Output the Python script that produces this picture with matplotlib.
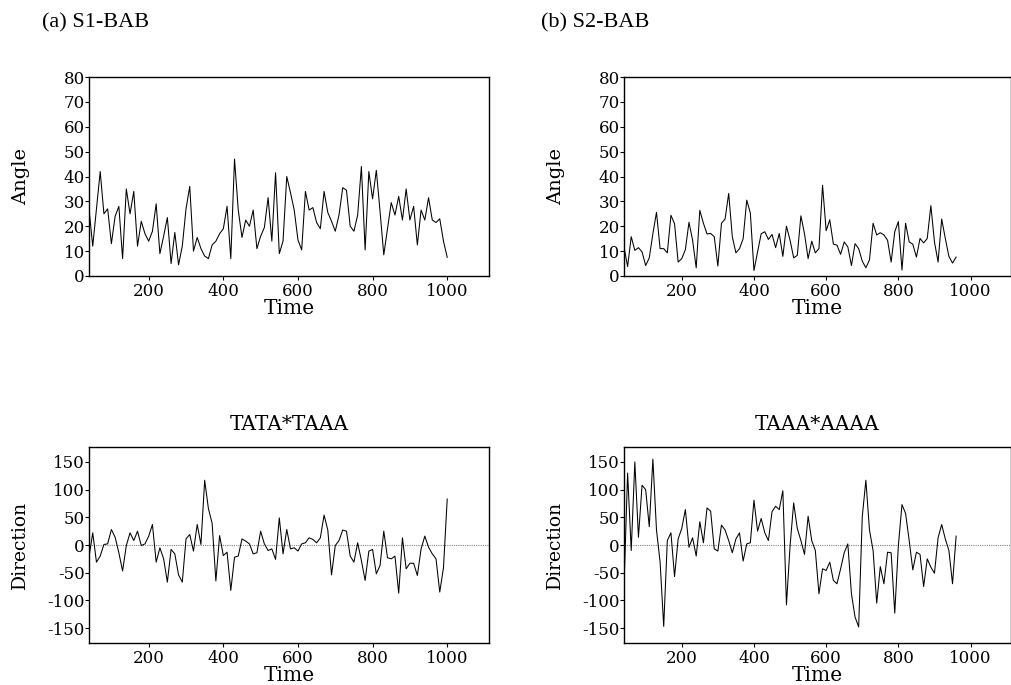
import matplotlib
matplotlib.use("Agg")
import matplotlib.pyplot as plt
import numpy as np

# angle series (a) S1-BAB, sampled every 10 time units from 40 to 1000
angle_s1 = [27, 12, 27, 42, 25, 27, 13, 24, 28, 7,
            35, 25, 34, 12, 22, 17, 14, 18, 29, 9,
            16, 23.5, 5, 17.5, 4.5, 12, 27, 36, 10, 15.5,
            11, 8, 7, 12.5, 14, 17, 19, 28, 7, 47,
            26.5, 15.5, 22.5, 20, 26.5, 11, 16, 19.5, 31.5, 14,
            41.5, 9, 14, 40, 33.5, 26.5, 14.5, 10.5, 34, 26.5,
            27.5, 21.5, 19, 34, 25.5, 22, 18, 24.5, 35.5, 34.5,
            20, 18, 24.5, 44, 10.5, 42, 31, 42.5, 26, 8.5,
            19, 29.5, 24.5, 32, 22.5, 35, 22.5, 28, 12.5, 26.5,
            22.5, 31.5, 22.5, 21.5, 23, 14, 7.5]

# angle series (b) S2-BAB, every 10 time units from 40 to 960
angle_s2 = [11.7, 3.8, 15.8, 10.3, 11.4, 9.7, 4.2, 7.3, 17, 25.6,
            11, 11, 9.3, 24.4, 21, 5.6, 7, 10.6, 21.6, 14.4,
            3.3, 26.4, 21.2, 16.9, 17.1, 15.8, 4, 21.2, 22.9, 33.2,
            15.8, 9.3, 11, 15, 30.5, 25.3, 2.2, 9.7, 17, 17.8,
            14.7, 16.7, 11.4, 17.1, 7.9, 20, 14.4, 7.3, 8.3, 24.2,
            17, 7, 14, 9.3, 11, 36.5, 18.2, 22.6, 12.8, 12.4,
            8.7, 13.7, 11.7, 4.2, 13, 11, 6, 3.3, 6.5, 21.2,
            16.5, 17.4, 16.5, 14.4, 5.6, 17.8, 21.9, 2.4, 21.2, 13.7,
            12.8, 7.6, 15.1, 13.3, 15.1, 28.3, 13.7, 5.6, 22.9, 15.1,
            7.9, 5.2, 7.6]

# direction series TATA*TAAA, 40 to 1000
direction_s1 = [-22, 22, -31, -20, 1, 2, 28, 14, -14, -47,
                -1, 22, 8, 25, -1, 2, 16, 37, -31, -5,
                -25, -67, -8, -16, -54, -67, 11, 19, -11, 37,
                1, 117, 66, 39, -65, 17, -19, -13, -82, -22,
                -20, 11, 7, 2, -16, -14, 25, 2, -10, -7,
                -26, 49, -16, 28, -7, -5, -11, 2, 4, 13,
                10, 4, 13, 54, 27, -54, -1, 8, 27, 25,
                -20, -31, 4, -28, -64, -11, -8, -52, -37, 25,
                -23, -25, -20, -87, 13, -43, -33, -33, -55, -7,
                16, -4, -16, -25, -85, -41, 83]

# direction series TAAA*AAAA, 40 to 960
direction_s2 = [-75, 130, -10, 150, 14, 108, 100, 33, 155, 27,
                -31, -147, 8, 22, -57, 11, 30, 64, -4, 13,
                -20, 42, 4, 67, 61, -7, -11, 36, 27, 8,
                -14, 11, 22, -29, 2, 4, 81, 25, 48, 22,
                8, 60, 70, 64, 98, -108, -2, 76, 30, 8,
                -17, 52, 8, -10, -88, -43, -46, -31, -64, -70,
                -43, -14, 2, -88, -130, -148, 51, 117, 27, -10,
                -105, -39, -70, -13, -14, -123, -1, 73, 57, 8,
                -45, -13, -17, -75, -25, -40, -51, 13, 37, 11,
                -10, -70, 16]

time_s1 = np.arange(40, 40 + 10 * len(angle_s1), 10)
time_s2 = np.arange(40, 40 + 10 * len(angle_s2), 10)
time_d1 = np.arange(40, 40 + 10 * len(direction_s1), 10)
time_d2 = np.arange(40, 40 + 10 * len(direction_s2), 10)

plt.rcParams['font.family'] = ['DejaVu Serif']
plt.rcParams['axes.unicode_minus'] = False
plt.rcParams['axes.linewidth'] = 1.0

fig = plt.figure(figsize=(10.12, 6.85), dpi=100)

W, H = 1012, 685


def make_ax(left, top, right, bottom):
    return fig.add_axes([left / W, (H - bottom) / H, (right - left) / W, (bottom - top) / H])


ax1 = make_ax(89, 77, 489, 276)
ax2 = make_ax(624, 77, 1011, 276)
ax3 = make_ax(89, 447, 489, 643)
ax4 = make_ax(624, 447, 1011, 643)

for ax, t, y in [(ax1, time_s1, angle_s1), (ax2, time_s2, angle_s2)]:
    ax.plot(t, y, color='black', lw=0.75)
    ax.set_ylim(0, 80)
    ax.set_yticks(range(0, 81, 10))
    ax.set_ylabel('Angle', fontsize=14)

for ax, t, y in [(ax3, time_d1, direction_s1), (ax4, time_d2, direction_s2)]:
    ax.axhline(0, color='gray', lw=0.8, ls=(0, (1, 1)))
    ax.plot(t, y, color='black', lw=0.75)
    ax.set_ylim(-177, 177)
    ax.set_yticks(range(-150, 151, 50))
    ax.set_ylabel('Direction', fontsize=13.5)

for ax in (ax1, ax2, ax3, ax4):
    ax.set_xlim(40, 1112)
    ax.set_xticks(range(200, 1001, 200))
    ax.set_xlabel('Time', fontsize=14.5, labelpad=-1)
    ax.tick_params(direction='out', length=3, width=0.8, labelsize=12)
    ax.tick_params(axis='y', pad=0)
    ax.tick_params(axis='x', pad=2)

# y label positions (right edge of the rotated label)
ax1.yaxis.set_label_coords(-0.148, 0.5)
ax3.yaxis.set_label_coords(-0.15, 0.5)
ax2.yaxis.set_label_coords(-0.152, 0.5)
ax4.yaxis.set_label_coords(-0.155, 0.5)

ax3.set_title('TATA*TAAA', fontsize=14.5, pad=12)
ax4.set_title('TAAA*AAAA', fontsize=14.5, pad=12)

fig.text(42 / W, 1 - 23 / H, '(a) S1-BAB', fontsize=16, va='center', ha='left',
         family='Liberation Serif')
fig.text(541 / W, 1 - 23 / H, '(b) S2-BAB', fontsize=16, va='center', ha='left',
         family='Liberation Serif')

fig.savefig('out.png', dpi=100)
